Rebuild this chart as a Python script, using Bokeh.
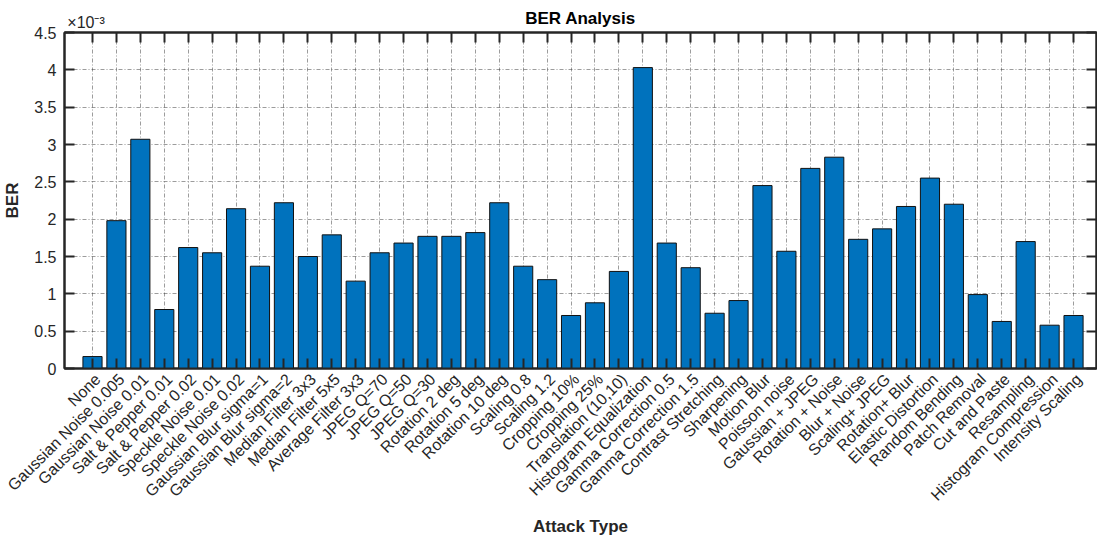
import numpy as np
from bokeh.plotting import figure
from bokeh.models import (Range1d, FixedTicker, LinearAxis,
                          ColumnDataSource, CustomJSTickFormatter)
from bokeh.embed import file_html
from bokeh.resources import INLINE

# Attack types and the bit error rate measured after each one
attacks = [
    "None", "Gaussian Noise 0.005", "Gaussian Noise 0.01", "Salt & Pepper 0.01",
    "Salt & Pepper 0.02", "Speckle Noise 0.01", "Speckle Noise 0.02",
    "Gaussian Blur sigma=1", "Gaussian Blur sigma=2", "Median Filter 3x3",
    "Median Filter 5x5", "Average Filter 3x3", "JPEG Q=70", "JPEG Q=50",
    "JPEG Q=30", "Rotation 2 deg", "Rotation 5 deg", "Rotation 10 deg",
    "Scaling 0.8", "Scaling 1.2", "Cropping 10%", "Cropping 25%",
    "Translation (10,10)", "Histogram Equalization", "Gamma Correction 0.5",
    "Gamma Correction 1.5", "Contrast Stretching", "Sharpening", "Motion Blur",
    "Poisson noise", "Gaussian + JPEG", "Rotation + Noise", "Blur + Noise",
    "Scaling+ JPEG", "Rotation+ Blur", "Elastic Distortion", "Random Bending",
    "Patch Removal", "Cut and Paste", "Resampling", "Histogram Compression",
    "Intensity Scaling",
]

# BER values, in units of 1e-3
ber_e3 = [
    0.16, 1.98, 3.07, 0.79, 1.62, 1.55, 2.14, 1.37, 2.22, 1.50,
    1.79, 1.17, 1.55, 1.68, 1.77, 1.77, 1.82, 2.22, 1.37, 1.19,
    0.71, 0.88, 1.30, 4.03, 1.68, 1.35, 0.74, 0.91, 2.45, 1.57,
    2.68, 2.83, 1.73, 1.87, 2.17, 2.55, 2.20, 0.99, 0.63, 1.70,
    0.58, 0.71,
]

y_ticks = [0, 0.5, 1, 1.5, 2, 2.5, 3, 3.5, 4, 4.5]
y_tick_labels = ["0", "0.5", "1", "1.5", "2", "2.5", "3", "3.5", "4", "4.5"]
exponent_text = "\u00d710\u207b\u00b3"

AX = "#262626"
BAR = "#0072BD"
FONT = "Liberation Sans"
W, H = 1097, 539

X0, X1 = -1.17, len(attacks) - 1 + 0.96
xs = list(range(len(attacks)))
label_shift = 0.22          # rotated names hang from their top-right corner
src = ColumnDataSource(dict(x=xs, ber=ber_e3, attack=attacks))

p = figure(width=W, height=H, output_backend="svg", toolbar_location=None,
           title=None,
           x_range=Range1d(X0, X1), y_range=Range1d(0, 4.5),
           min_border_left=64, min_border_right=1,
           min_border_top=32, min_border_bottom=171)
p.background_fill_color = "white"
p.border_fill_color = "white"
p.outline_line_color = AX
p.outline_line_width = 2

p.vbar(x="x", top="ber", width=0.8, bottom=0, source=src,
       fill_color=BAR, line_color="#111111", line_width=1)

# grid
p.xgrid.ticker = FixedTicker(ticks=xs)
p.ygrid.ticker = FixedTicker(ticks=y_ticks)
for g in (p.xgrid, p.ygrid):
    g.grid_line_color = "#3a3a3a"
    g.grid_line_alpha = 0.5
    g.grid_line_dash = "4 2 1 2"
    g.grid_line_width = 1


def style_axis(ax):
    ax.axis_line_color = AX
    ax.axis_line_width = 2
    ax.major_tick_line_color = AX
    ax.major_tick_line_width = 2
    ax.major_tick_in = 10
    ax.major_tick_out = 0
    ax.minor_tick_line_color = None
    ax.major_label_text_font = FONT
    ax.major_label_text_font_size = "16px"
    ax.major_label_text_color = AX
    ax.axis_label_text_font = FONT
    ax.axis_label_text_font_size = "17px"
    ax.axis_label_text_font_style = "bold"
    ax.axis_label_text_color = AX


blank = CustomJSTickFormatter(code="return ''")


def marks_only(ax):
    ax.formatter = blank
    ax.major_label_text_font_size = "0px"
    ax.major_label_standoff = 0


# bottom axis: tick marks only
xa = p.xaxis[0]
style_axis(xa)
xa.ticker = FixedTicker(ticks=xs)
marks_only(xa)

# second bottom axis carrying the rotated attack names
names_ax = LinearAxis(ticker=FixedTicker(ticks=[x + label_shift for x in xs]))
style_axis(names_ax)
names_ax.axis_line_color = None
names_ax.major_tick_line_color = None
names_ax.major_label_overrides = {x + label_shift: n for x, n in zip(xs, attacks)}
names_ax.major_label_orientation = np.pi / 4
names_ax.major_label_standoff = 8
names_ax.axis_label = "Attack Type"
names_ax.axis_label_standoff = 4
p.add_layout(names_ax, "below")

# left axis
ya = p.yaxis[0]
style_axis(ya)
ya.ticker = FixedTicker(ticks=y_ticks)
ya.major_label_overrides = {t: s for t, s in zip(y_ticks, y_tick_labels)}
ya.major_label_standoff = 8
ya.axis_label = "BER"
ya.axis_label_standoff = 9

# mirrored ticks on top and right
top = LinearAxis(ticker=FixedTicker(ticks=xs))
style_axis(top)
marks_only(top)
p.add_layout(top, "above")

right = LinearAxis(ticker=FixedTicker(ticks=y_ticks))
style_axis(right)
marks_only(right)
p.add_layout(right, "right")

# exponent note at the top-left corner, title centred on the same row
exp_x = X0 + 0.9
head = LinearAxis(ticker=FixedTicker(ticks=[exp_x]))
style_axis(head)
head.axis_line_color = None
head.major_tick_line_color = None
head.major_label_overrides = {exp_x: exponent_text}
head.major_label_text_font_size = "16px"
head.major_label_standoff = 2
head.axis_label = "BER Analysis"
head.axis_label_text_color = "black"
head.axis_label_standoff = -17
p.add_layout(head, "above")

open("out.html", "w").write(file_html(p, INLINE))
